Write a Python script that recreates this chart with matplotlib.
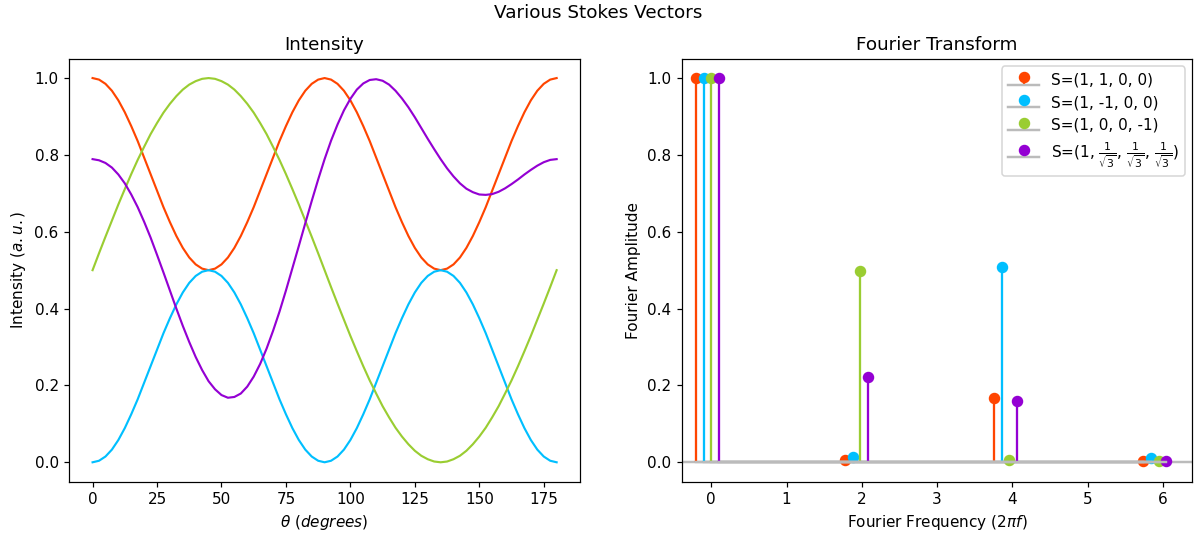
"""
Intensity curves and Fourier amplitudes for a few Stokes vectors.
"""
import matplotlib
matplotlib.use('Agg')
import matplotlib.pyplot as plt

# Кути аналізатора (градуси), крок 2.5
theta = [k * 2.5 for k in range(73)]

# Інтенсивність для кожного вектора Стокса
i_h = [1.0, 0.996, 0.985, 0.967, 0.942, 0.911, 0.875, 0.836, 0.793, 0.75,
       0.707, 0.664, 0.625, 0.589, 0.558, 0.533, 0.515, 0.504, 0.5,
       0.504, 0.515, 0.533, 0.558, 0.589, 0.625, 0.664, 0.707, 0.75,
       0.793, 0.836, 0.875, 0.911, 0.942, 0.967, 0.985, 0.996, 1.0,
       0.996, 0.985, 0.967, 0.942, 0.911, 0.875, 0.836, 0.793, 0.75,
       0.707, 0.664, 0.625, 0.589, 0.558, 0.533, 0.515, 0.504, 0.5,
       0.504, 0.515, 0.533, 0.558, 0.589, 0.625, 0.664, 0.707, 0.75,
       0.793, 0.836, 0.875, 0.911, 0.942, 0.967, 0.985, 0.996, 1.0]
i_v = [0.0, 0.004, 0.015, 0.033, 0.058, 0.089, 0.125, 0.164, 0.207, 0.25,
       0.293, 0.336, 0.375, 0.411, 0.442, 0.467, 0.485, 0.496, 0.5,
       0.496, 0.485, 0.467, 0.442, 0.411, 0.375, 0.336, 0.293, 0.25,
       0.207, 0.164, 0.125, 0.089, 0.058, 0.033, 0.015, 0.004, 0.0,
       0.004, 0.015, 0.033, 0.058, 0.089, 0.125, 0.164, 0.207, 0.25,
       0.293, 0.336, 0.375, 0.411, 0.442, 0.467, 0.485, 0.496, 0.5,
       0.496, 0.485, 0.467, 0.442, 0.411, 0.375, 0.336, 0.293, 0.25,
       0.207, 0.164, 0.125, 0.089, 0.058, 0.033, 0.015, 0.004, 0.0]
i_c = [0.5, 0.544, 0.587, 0.629, 0.671, 0.711, 0.75, 0.787, 0.821, 0.854,
       0.883, 0.910, 0.933, 0.953, 0.970, 0.983, 0.992, 0.998, 1.0,
       0.998, 0.992, 0.983, 0.970, 0.953, 0.933, 0.910, 0.883, 0.854,
       0.821, 0.787, 0.75, 0.711, 0.671, 0.629, 0.587, 0.544, 0.5,
       0.456, 0.413, 0.371, 0.329, 0.289, 0.25, 0.213, 0.179, 0.146,
       0.117, 0.090, 0.067, 0.047, 0.030, 0.017, 0.008, 0.002, 0.0,
       0.002, 0.008, 0.017, 0.030, 0.047, 0.067, 0.090, 0.117, 0.146,
       0.179, 0.213, 0.25, 0.289, 0.329, 0.371, 0.413, 0.456, 0.5]
i_e = [0.789, 0.786, 0.779, 0.767, 0.749, 0.726, 0.697, 0.664, 0.626, 0.585,
       0.540, 0.494, 0.447, 0.400, 0.355, 0.313, 0.274, 0.240, 0.211,
       0.190, 0.175, 0.168, 0.170, 0.179, 0.197, 0.223, 0.256, 0.296,
       0.342, 0.392, 0.447, 0.505, 0.563, 0.622, 0.680, 0.736, 0.789,
       0.837, 0.879, 0.916, 0.946, 0.970, 0.986, 0.995, 0.997, 0.993,
       0.983, 0.967, 0.947, 0.924, 0.898, 0.870, 0.842, 0.815, 0.789,
       0.765, 0.744, 0.726, 0.712, 0.703, 0.697, 0.696, 0.698, 0.704,
       0.713, 0.724, 0.736, 0.749, 0.761, 0.772, 0.781, 0.787, 0.789]

# Фур'є-амплітуди (нормовані на нульову гармоніку)
freq = [0, 1.98, 3.96, 5.94]
shift = [-0.2, -0.1, 0.0, 0.1]
amp_h = [1.0, 0.005, 0.167, 0.003]
amp_v = [1.0, 0.013, 0.508, 0.010]
amp_c = [1.0, 0.497, 0.006, 0.003]
amp_e = [1.0, 0.221, 0.160, 0.003]

labels = ['S=(1, 1, 0, 0)', 'S=(1, -1, 0, 0)', 'S=(1, 0, 0, -1)',
          r'S=(1, $\frac{1}{\sqrt{3}}$, $\frac{1}{\sqrt{3}}$, $\frac{1}{\sqrt{3}}$)']
colors = ['orangered', 'deepskyblue', 'yellowgreen', 'darkviolet']

DPI = 110
fig, (ax1, ax2) = plt.subplots(1, 2, figsize=(1196 / DPI, 535 / DPI), dpi=DPI)
fig.subplots_adjust(left=0.058, right=0.997, top=0.89, bottom=0.10, wspace=0.2)

for ys, c in zip([i_h, i_v, i_c, i_e], colors):
    ax1.plot(theta, ys, color=c, linewidth=1.4)
ax1.set_title('Intensity')
ax1.set_xlabel(r'$\theta$ ($degrees$)')
ax1.set_ylabel(r'Intensity ($a.u.$)')

for amps, dx, c, lab in zip([amp_h, amp_v, amp_c, amp_e], shift, colors, labels):
    xs = [f + dx for f in freq]
    cont = ax2.stem(xs, amps, label=lab)
    plt.setp(cont.markerline, color=c, markersize=6.5)
    plt.setp(cont.stemlines, color=c, linewidth=1.5)
    plt.setp(cont.baseline, color='#bbbbbb', linewidth=1.6)
ax2.axhline(0, color='#bbbbbb', linewidth=1.6, zorder=0)
ax2.set_xlim(-0.39, 6.39)
ax2.set_ylim(-0.05, 1.05)
ax2.set_title('Fourier Transform')
ax2.set_xlabel(r'Fourier Frequency ($2\pi f$)')
ax2.set_ylabel('Fourier Amplitude')
ax2.legend(loc='upper right')

fig.suptitle('Various Stokes Vectors', y=0.992)
plt.savefig('out.png')
